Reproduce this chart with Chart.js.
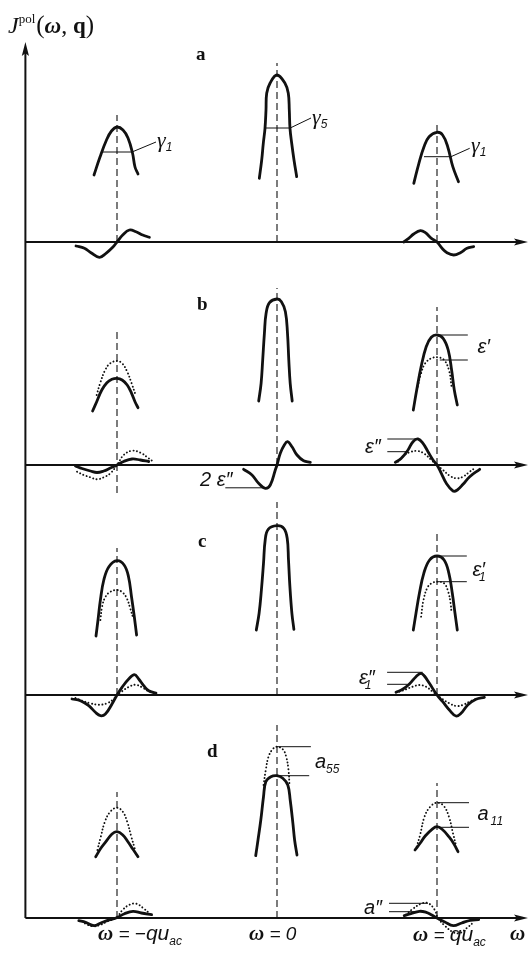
<!DOCTYPE html>
<html>
<head>
<meta charset="utf-8">
<script src="https://cdn.jsdelivr.net/npm/chart.js"></script>
<style>
  html, body { margin: 0; padding: 0; background: #fff; }
  #wrap { width: 531px; height: 954px; }
</style>
</head>
<body>
<div id="wrap"><canvas id="fig"></canvas></div>
<script>
// omega in units where q*u_ac = 16, intensity in arbitrary units
var peakAt = [-16, 0, 16];            // -qu_ac, 0, +qu_ac
var panelBase = [67.6, 45.3, 22.3, 0]; // panels a, b, c, d (stacked)
var tickLabels = ["ω = −qu_ac", "ω = 0", "ω = qu_ac"];

// each curve: [omega offset from its peak, intensity]
// panel a
var aLeft = [[-2.3,6.7],[-1.7,8.5],[-1.05,10.2],[-0.55,11.1],[0,11.5],[0.6,11.2],[1.1,10.4],[1.55,8.9],[1.8,7.5],[2.1,6.8]];
var aMid = [[-1.77,6.37],[-1.53,8.2],[-1.37,9.87],[-1.2,11.37],[-1.1,13.2],[-1.03,14.87],[-0.7,15.87],[0,16.7],[0.8,15.87],[1.13,14.87],[1.23,13.2],[1.3,11.37],[1.47,9.87],[1.7,8.2],[1.97,6.53]];
var aRight = [[-2.32,5.87],[-1.81,7.87],[-1.3,9.53],[-0.79,10.53],[0,10.97],[0.56,10.7],[1.07,9.53],[1.58,7.53],[2.15,6.03]];
var aLeftLow = [[-4.1,-0.4],[-3.26,-0.63],[-2.6,-1.07],[-1.76,-1.53],[-1.1,-1.13],[-0.43,-0.53],[0,0],[0.57,0.7],[1.24,1.2],[1.9,1.03],[2.57,0.7],[3.24,0.47]];
var aRightLow = [[-3.33,0],[-2.83,0.37],[-2.33,0.8],[-1.66,1.13],[-1.16,0.93],[-0.56,0.37],[0,0],[0.5,-0.63],[1.0,-1.07],[1.67,-1.3],[2.34,-1.07],[3.0,-0.63],[3.67,-0.47]];

// panel b
var bLeft = [[-2.44,5.4],[-2.03,6.33],[-1.52,7.5],[-1.01,8.23],[-0.51,8.57],[0,8.67],[0.51,8.5],[1.02,8.0],[1.46,7.17],[1.8,6.33],[2.1,5.73]];
var bLeftDot = [[-2.03,7.0],[-1.69,8.17],[-1.18,9.5],[-0.68,10.17],[0,10.4],[0.51,10.17],[1.02,9.33],[1.46,8.17],[1.86,7.0]];
var bMid = [[-1.83,6.4],[-1.59,8.17],[-1.43,10.5],[-1.26,13.17],[-1.09,15.17],[-0.75,16.23],[0,16.6],[0.44,16.33],[0.84,15.33],[1.05,13.17],[1.18,10.5],[1.32,8.17],[1.52,6.4]];
var bRight = [[-2.37,5.5],[-2.03,7.5],[-1.59,9.83],[-1.08,11.83],[-0.57,12.77],[0,13.0],[0.61,12.67],[1.12,11.5],[1.46,9.5],[1.73,7.5],[2.03,6.0]];
var bRightDot = [[-1.93,7.83],[-1.59,9.17],[-1.18,10.17],[-0.57,10.67],[0.1,10.77],[0.71,10.5],[1.19,9.5],[1.46,7.83]];
var bLeftLow = [[-4.16,-0.1],[-3.5,-0.35],[-2.66,-0.6],[-2.0,-0.75],[-1.33,-0.6],[-0.66,-0.3],[0,0],[0.67,0.35],[1.5,0.6],[2.34,0.5],[3.17,0.35]];
var bLeftLowDot = [[-4.0,-0.67],[-3.33,-1.0],[-2.66,-1.23],[-2.0,-1.43],[-1.33,-1.23],[-0.66,-0.83],[0,0],[0.67,1.0],[1.5,1.43],[2.34,1.23],[3.17,0.67],[3.5,0.43]];
var bMidLow = [[-3.34,-0.43],[-2.5,-1.0],[-1.84,-1.83],[-1.17,-2.33],[-0.67,-2.0],[-0.17,-0.5],[0,0],[0.33,1.17],[0.73,2.0],[1.06,2.33],[1.5,1.83],[2.0,1.0],[2.66,0.43],[3.33,0.27]];
var bRightLow = [[-4.17,0.27],[-3.57,0.67],[-2.9,1.5],[-2.4,2.33],[-1.9,2.6],[-1.4,2.17],[-0.9,1.33],[-0.4,0.5],[0,0],[0.43,-0.83],[0.93,-1.83],[1.6,-2.6],[2.03,-2.5],[2.6,-1.93],[3.27,-1.17],[4.27,-0.43]];
var bRightLowDot = [[-3.9,0.33],[-3.23,1.0],[-2.57,1.33],[-1.9,1.4],[-1.23,1.1],[-0.57,0.5],[0,0],[0.6,-0.5],[1.27,-1.07],[1.93,-1.33],[2.6,-1.17],[3.27,-0.67],[3.77,-0.33]];

// panel c
var cLeft = [[-2.1,5.9],[-1.9,7.5],[-1.66,9.5],[-1.32,11.5],[-0.81,12.83],[0,13.43],[0.71,13.0],[1.15,11.83],[1.45,9.83],[1.73,7.83],[1.96,6.0]];
var cLeftDot = [[-1.66,7.5],[-1.49,8.83],[-1.15,9.83],[-0.65,10.33],[0,10.5],[0.54,10.27],[0.98,9.67],[1.32,8.67],[1.62,7.67]];
var cMid = [[-2.07,6.5],[-1.79,8.17],[-1.56,10.5],[-1.35,13.17],[-1.18,15.5],[-0.88,16.57],[0,16.93],[0.68,16.67],[1.02,15.67],[1.15,13.5],[1.29,10.83],[1.49,8.17],[1.69,6.57]];
var cRight = [[-2.37,6.5],[-2.1,8.17],[-1.76,10.17],[-1.32,12.17],[-0.74,13.5],[0,13.9],[0.71,13.5],[1.19,12.17],[1.53,10.17],[1.8,8.17],[2.03,6.5]];
var cRightDot = [[-1.59,7.83],[-1.35,9.5],[-0.91,10.83],[-0.41,11.23],[0.1,11.33],[0.71,11.17],[1.12,10.33],[1.36,9.17],[1.46,8.17]];
var cLeftLow = [[-4.5,-0.4],[-3.66,-0.57],[-2.83,-1.07],[-2.16,-1.73],[-1.66,-2.07],[-1.16,-1.9],[-0.5,-0.9],[0,0],[0.5,0.77],[1.17,1.6],[1.74,2.03],[2.17,1.6],[2.67,0.93],[3.17,0.43],[3.9,0.2]];
var cLeftLowDot = [[-4.16,-0.3],[-3.5,-0.57],[-2.66,-0.83],[-1.83,-0.97],[-1.0,-0.83],[-0.33,-0.4],[0,0],[0.5,0.37],[1.17,0.8],[1.84,1.03],[2.5,0.77],[3.17,0.37],[3.84,0.13]];
var cRightLow = [[-4.1,0.27],[-3.43,0.57],[-2.76,1.1],[-2.1,1.83],[-1.6,2.17],[-1.26,1.9],[-0.76,1.17],[0,0],[0.57,-0.67],[1.24,-1.5],[1.9,-2.1],[2.4,-1.83],[3.07,-1.0],[3.9,-0.43],[4.74,-0.23]];
var cRightLowDot = [[-3.76,0.33],[-3.1,0.57],[-2.43,0.83],[-1.76,1.0],[-1.1,0.83],[-0.43,0.33],[0,0],[0.57,-0.43],[1.24,-0.83],[1.9,-1.1],[2.57,-1.0],[3.24,-0.67],[4.07,-0.33]];

// panel d
var dLeft = [[-2.13,6.13],[-1.62,6.97],[-1.11,7.63],[-0.5,8.4],[0,8.63],[0.58,8.3],[1.09,7.63],[1.6,6.87],[2.1,6.13]];
var dLeftDot = [[-1.96,6.8],[-1.62,8.13],[-1.21,9.63],[-0.67,10.63],[0,11.03],[0.58,10.63],[1.02,9.63],[1.43,8.13],[1.77,6.97]];
var dMid = [[-2.13,6.23],[-1.9,7.8],[-1.62,9.8],[-1.35,12.13],[-1.12,13.63],[-0.61,14.13],[0,14.23],[0.58,13.97],[1.08,13.3],[1.32,11.8],[1.59,9.47],[1.76,7.8],[2.0,6.3]];
var dMidDot = [[-1.35,13.3],[-1.12,14.8],[-0.85,16.13],[-0.44,16.87],[0,17.13],[0.58,16.87],[0.92,16.13],[1.15,14.8],[1.25,13.3]];
var dRight = [[-2.2,6.8],[-1.69,7.47],[-1.18,8.2],[-0.5,8.87],[0,9.13],[0.51,8.87],[1.19,8.13],[1.7,7.4],[2.1,6.63]];
var dRightDot = [[-2.03,7.13],[-1.69,8.3],[-1.25,10.13],[-0.67,11.13],[0,11.53],[0.68,11.2],[1.19,10.13],[1.6,8.47],[1.93,7.13]];
var dLeftLow = [[-3.82,-0.27],[-3.14,-0.43],[-2.3,-0.77],[-1.62,-0.5],[-0.94,-0.23],[-0.1,0],[0.75,0.43],[1.6,0.67],[2.44,0.5],[3.46,0.33]];
var dLeftLowDot = [[-3.48,-0.33],[-2.98,-0.67],[-2.3,-0.83],[-1.62,-0.67],[-0.94,-0.33],[-0.1,0],[0.58,0.83],[1.26,1.33],[1.93,1.43],[2.61,1.0],[3.29,0.43]];
var dRightLow = [[-3.28,0.23],[-2.61,0.43],[-1.76,0.67],[-1.08,0.57],[-0.57,0.33],[0,0],[0.78,-0.4],[1.63,-0.77],[2.47,-0.5],[3.32,-0.23],[4.17,-0.17]];
var dRightLowDot = [[-3.11,0.33],[-2.44,0.9],[-1.59,1.43],[-0.91,1.5],[-0.24,0.83],[0.1,0],[0.78,-0.77],[1.63,-1.43],[2.3,-1.5],[2.98,-1.0],[3.66,-0.43]];

// top of the dashed guide lines, per panel: left, middle, right
var dashTop = [[12.7, 17.9, 11.9], [13.5, 17.7, 15.8], [14.7, 19.3, 16.5], [12.6, 19.3, 13.5]];

// [panel, peak, points, dotted]
var curves = [
  [0,0,aLeft,false],[0,1,aMid,false],[0,2,aRight,false],[0,0,aLeftLow,false],[0,2,aRightLow,false],
  [1,0,bLeft,false],[1,0,bLeftDot,true],[1,1,bMid,false],[1,2,bRight,false],[1,2,bRightDot,true],
  [1,0,bLeftLow,false],[1,0,bLeftLowDot,true],[1,1,bMidLow,false],[1,2,bRightLow,false],[1,2,bRightLowDot,true],
  [2,0,cLeft,false],[2,0,cLeftDot,true],[2,1,cMid,false],[2,2,cRight,false],[2,2,cRightDot,true],
  [2,0,cLeftLow,false],[2,0,cLeftLowDot,true],[2,2,cRightLow,false],[2,2,cRightLowDot,true],
  [3,0,dLeft,false],[3,0,dLeftDot,true],[3,1,dMid,false],[3,1,dMidDot,true],[3,2,dRight,false],[3,2,dRightDot,true],
  [3,0,dLeftLow,false],[3,0,dLeftLowDot,true],[3,2,dRightLow,false],[3,2,dRightLowDot,true]
];

// thin level marks and leaders: [panel, peak, points]
var marks = [
  [0,0,[[-1.4,9.0],[1.5,9.0],[3.9,10.0]]],
  [0,1,[[-1.29,11.4],[1.32,11.4],[3.4,12.4]]],
  [0,2,[[-1.3,8.53],[1.4,8.53],[3.27,9.37]]],
  [1,2,[[0,13.0],[3.08,13.0]]], [1,2,[[0.28,10.5],[3.08,10.5]]],
  [1,2,[[-4.97,2.6],[-1.9,2.6]]], [1,2,[[-4.97,1.33],[-2.9,1.33]]],
  [1,1,[[-5.17,-2.28],[-1.17,-2.28]]],
  [2,2,[[0,13.9],[2.98,13.9]]], [2,2,[[0.1,11.33],[2.98,11.33]]],
  [2,2,[[-4.99,2.27],[-1.43,2.27]]], [2,2,[[-4.99,1.07],[-2.95,1.07]]],
  [3,1,[[0,17.13],[3.39,17.13]]], [3,1,[[0,14.23],[3.22,14.23]]],
  [3,2,[[0,11.53],[3.2,11.53]]], [3,2,[[0,9.07],[3.2,9.07]]],
  [3,2,[[-4.8,1.47],[-0.9,1.47]]], [3,2,[[-4.8,0.63],[-2.27,0.63]]]
];

var axisLeft = -25.16, axisRight = 25.1, axisTop = 87.6;

function toXY(panel, at, pts) {
  return pts.map(function (p) { return { x: peakAt[at] + p[0], y: panelBase[panel] + p[1] }; });
}

var datasets = [];
// axes
datasets.push({ data: [{ x: axisLeft, y: 0 }, { x: axisLeft, y: axisTop - 0.8 }], borderWidth: 2 });
panelBase.forEach(function (b) {
  datasets.push({ data: [{ x: axisLeft, y: b }, { x: axisRight - 0.8, y: b }], borderWidth: 2 });
});
// dashed guides
dashTop.forEach(function (tops, p) {
  tops.forEach(function (t, i) {
    var bottom = (p === 1 && i === 0) ? -2.8 : 0;
    datasets.push({ data: toXY(p, i, [[0, bottom], [0, t]]), borderWidth: 1.1, borderDash: [7, 4] });
  });
});
marks.forEach(function (m) {
  datasets.push({ data: toXY(m[0], m[1], m[2]), borderWidth: 1 });
});
curves.forEach(function (c) {
  var ds = { data: toXY(c[0], c[1], c[2]), tension: 0.4, borderWidth: c[3] ? 1.9 : 2.8, borderCapStyle: 'round', borderJoinStyle: 'round' };
  if (c[3]) ds.borderDash = [0.1, 3.4];
  datasets.push(ds);
});

var SERIF = '"Liberation Serif", "DejaVu Serif", serif';
var SANS = '"Liberation Sans", "DejaVu Sans", sans-serif';
var W = 'italic bold 21px ' + SERIF;
var T = 'italic 20px ' + SANS;
var SUB = 'italic 12px ' + SANS;

function tick(label) {
  // "ω = −qu_ac" style text split into runs
  var parts = label.split('_');
  var main = parts[0].replace('ω', '');
  var segs = [['ω', W], [main.replace('qu', ''), 'italic 19px ' + SANS]];
  if (main.indexOf('qu') >= 0) segs.push(['qu', 'italic 21px ' + SANS]);
  if (parts[1]) segs.push([parts[1], 'italic 12px ' + SANS, 5]);
  return segs;
}

// [omega, y, runs]; a run is [text, font, dy, dx]
var labels = [
  [-26.9, 88.5, [['J', 'italic 24px ' + SERIF], ['pol', '13px ' + SERIF, -10], ['(', '25px ' + SERIF, 0, 1], ['ω', 'italic bold 23px ' + SERIF], [',', '24px ' + SERIF], [' q', 'bold 23px ' + SERIF], [')', '25px ' + SERIF]]],
  [-8.1, 85.8, [['a', 'bold 19px ' + SERIF]]],
  [-8.0, 60.8, [['b', 'bold 19px ' + SERIF]]],
  [-7.9, 37.1, [['c', 'bold 19px ' + SERIF]]],
  [-7.0, 16.1, [['d', 'bold 19px ' + SERIF]]],
  [-12.0, 77.1, [['γ', 'italic 22px ' + SERIF], ['1', SUB, 4]]],
  [3.5, 79.4, [['γ', 'italic 22px ' + SERIF], ['5', SUB, 4]]],
  [19.4, 76.6, [['γ', 'italic 22px ' + SERIF], ['1', SUB, 4]]],
  [20.05, 56.5, [['ε′', T]]],
  [8.8, 46.5, [['ε″', T]]],
  [-7.7, 43.2, [['2 ε″', T]]],
  [19.54, 34.2, [['ε′', T], ['1', SUB, 5, -6]]],
  [8.2, 23.4, [['ε″', T], ['1', SUB, 5, -10]]],
  [3.8, 15.0, [['a', T], ['55', SUB, 5]]],
  [20.05, 9.8, [['a', T], ['11', SUB, 5, 2]]],
  [8.7, 0.4, [['a″', T]]],
  [-17.9, -2.2, tick(tickLabels[0])],
  [-2.8, -2.2, tick(tickLabels[1])],
  [13.6, -2.3, tick(tickLabels[2])],
  [23.3, -2.2, [['ω', W]]]
];

// arrow tips: [omega, y, dx, dy]
var arrows = [[axisLeft, axisTop, 0, -1]];
panelBase.forEach(function (b) { arrows.push([axisRight, b, 1, 0]); });

var overlay = {
  id: 'overlay',
  afterDatasetsDraw: function (chart) {
    var ctx = chart.ctx, xs = chart.scales.x, ys = chart.scales.y;
    ctx.save();
    ctx.fillStyle = '#111';
    arrows.forEach(function (a) {
      var x = xs.getPixelForValue(a[0]), y = ys.getPixelForValue(a[1]);
      var ux = a[2], uy = a[3], len = 14, half = 3.6;
      ctx.beginPath();
      ctx.moveTo(x, y);
      ctx.lineTo(x - ux * len - uy * half, y - uy * len + ux * half);
      ctx.lineTo(x - ux * len * 0.8, y - uy * len * 0.8);
      ctx.lineTo(x - ux * len + uy * half, y - uy * len - ux * half);
      ctx.closePath();
      ctx.fill();
    });
    ctx.textBaseline = 'alphabetic';
    ctx.textAlign = 'left';
    labels.forEach(function (l) {
      var x = xs.getPixelForValue(l[0]), y = ys.getPixelForValue(l[1]);
      l[2].forEach(function (r) {
        ctx.font = r[1];
        x += r[3] || 0;
        ctx.fillText(r[0], x, y + (r[2] || 0));
        x += ctx.measureText(r[0]).width;
      });
    });
    ctx.restore();
  }
};

new Chart(document.getElementById('fig').getContext('2d'), {
  type: 'scatter',
  data: { datasets: datasets.map(function (d) {
    return Object.assign({ showLine: true, pointRadius: 0, borderColor: '#111', fill: false }, d);
  }) },
  options: {
    responsive: true,
    maintainAspectRatio: false,
    animation: false,
    layout: { padding: 0 },
    plugins: { legend: { display: false }, tooltip: { enabled: false } },
    scales: {
      x: { type: 'linear', min: -27.7, max: 25.4, display: false },
      y: { type: 'linear', min: -3.6, max: 91.8, display: false }
    }
  },
  plugins: [overlay]
});
</script>
</body>
</html>
